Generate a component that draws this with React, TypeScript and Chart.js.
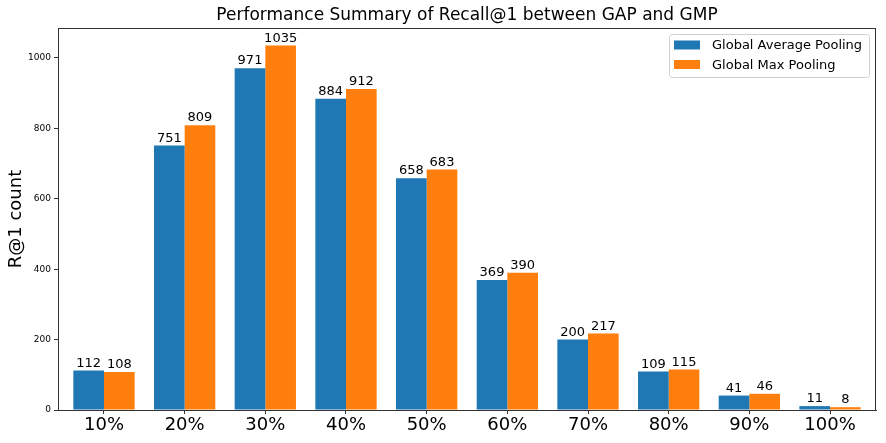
import { Chart, registerables } from 'chart.js';
import { useEffect, useRef } from 'react';

Chart.register(...registerables);

const categories = ['10%', '20%', '30%', '40%', '50%', '60%', '70%', '80%', '90%', '100%'];
const gapCounts = [112, 751, 971, 884, 658, 369, 200, 109, 41, 11];
const gmpCounts = [108, 809, 1035, 912, 683, 390, 217, 115, 46, 8];
const seriesNames = ['Global Average Pooling', 'Global Max Pooling'];
const yTicks = [0, 200, 400, 600, 800, 1000];

const BLUE = '#1f77b4';
const ORANGE = '#ff7f0e';
const FONT = "'DejaVu Sans', sans-serif";

// title, box, value labels and legend the way matplotlib draws them
const extrasPlugin = {
  id: 'extras',
  afterDatasetsDraw(chart: any) {
    const { ctx, chartArea } = chart;
    const { left, right, top, bottom } = chartArea;
    ctx.save();

    ctx.strokeStyle = '#333';
    ctx.lineWidth = 1;
    ctx.strokeRect(left + 0.5, top + 0.5, right - left - 1, bottom - top);

    ctx.fillStyle = '#000';
    ctx.font = `13px ${FONT}`;
    ctx.textAlign = 'center';
    ctx.textBaseline = 'alphabetic';
    chart.data.datasets.forEach((ds: any, di: number) => {
      const meta = chart.getDatasetMeta(di);
      meta.data.forEach((bar: any, i: number) => {
        ctx.fillText(String(ds.data[i].y), bar.x, bar.y - 4);
      });
    });

    ctx.font = `17px ${FONT}`;
    ctx.textBaseline = 'middle';
    ctx.fillText('Performance Summary of Recall@1 between GAP and GMP', (left + right) / 2, 16);

    // legend
    const bx = right - 207;
    const by = top + 6;
    const bw = 200;
    const bh = 43;
    ctx.fillStyle = 'rgba(255,255,255,0.8)';
    ctx.strokeStyle = '#d0d0d0';
    ctx.beginPath();
    ctx.roundRect(bx + 0.5, by + 0.5, bw, bh, 3);
    ctx.fill();
    ctx.stroke();
    ctx.font = `13px ${FONT}`;
    ctx.textAlign = 'left';
    [BLUE, ORANGE].forEach((c, i) => {
      const cy = by + 11 + i * 19.5;
      ctx.fillStyle = c;
      ctx.fillRect(bx + 5, cy - 4.5, 26, 9);
      ctx.fillStyle = '#000';
      ctx.fillText(seriesNames[i], bx + 43, cy + 1);
    });

    ctx.restore();
  },
};

const App = () => {
  const canvasRef = useRef<HTMLCanvasElement | null>(null);

  useEffect(() => {
    if (!canvasRef.current) return;

    const chart = new Chart(canvasRef.current, {
      type: 'bar',
      data: {
        datasets: [
          {
            label: seriesNames[0],
            data: gapCounts.map((v, i) => ({ x: i, y: v })),
            backgroundColor: BLUE,
          },
          {
            label: seriesNames[1],
            data: gmpCounts.map((v, i) => ({ x: i, y: v })),
            backgroundColor: ORANGE,
          },
        ],
      },
      plugins: [extrasPlugin],
      options: {
        animation: false,
        responsive: false,
        categoryPercentage: 0.76,
        barPercentage: 1,
        layout: { padding: { top: 28, right: 10, left: 0, bottom: 0 } },
        plugins: {
          legend: { display: false },
          tooltip: { enabled: false },
        },
        scales: {
          x: {
            type: 'linear',
            offset: false,
            min: -0.57,
            max: 9.57,
            afterBuildTicks: (axis: any) => {
              axis.ticks = categories.map((_, i) => ({ value: i }));
            },
            afterFit: (axis: any) => {
              axis.height = 33;
            },
            ticks: {
              callback: (v: any) => categories[v],
              color: '#000',
              font: { family: FONT, size: 18 },
              padding: 1,
              maxRotation: 0,
              autoSkip: false,
            },
            grid: { offset: false, drawOnChartArea: false, tickLength: 4, color: '#333' },
            border: { color: '#333' },
          },
          y: {
            min: 0,
            max: 1085,
            afterBuildTicks: (axis: any) => {
              axis.ticks = yTicks.map((v) => ({ value: v }));
            },
            afterFit: (axis: any) => {
              axis.width = 58;
            },
            ticks: {
              callback: (v: any) => String(v),
              color: '#000',
              font: { family: FONT, size: 9 },
              padding: 3,
            },
            title: {
              display: true,
              text: 'R@1 count',
              color: '#000',
              font: { family: FONT, size: 18 },
              padding: { top: 6, bottom: 0 },
            },
            grid: { drawOnChartArea: false, tickLength: 4, color: '#333' },
            border: { color: '#333' },
          },
        },
      },
    });

    return () => {
      chart.destroy();
    };
  }, []);

  return (
    <div style={{ position: 'fixed', left: 0, top: 0, width: 886, height: 443, background: '#fff' }}>
      <canvas ref={canvasRef} width={886} height={443} />
    </div>
  );
};

export default App;
